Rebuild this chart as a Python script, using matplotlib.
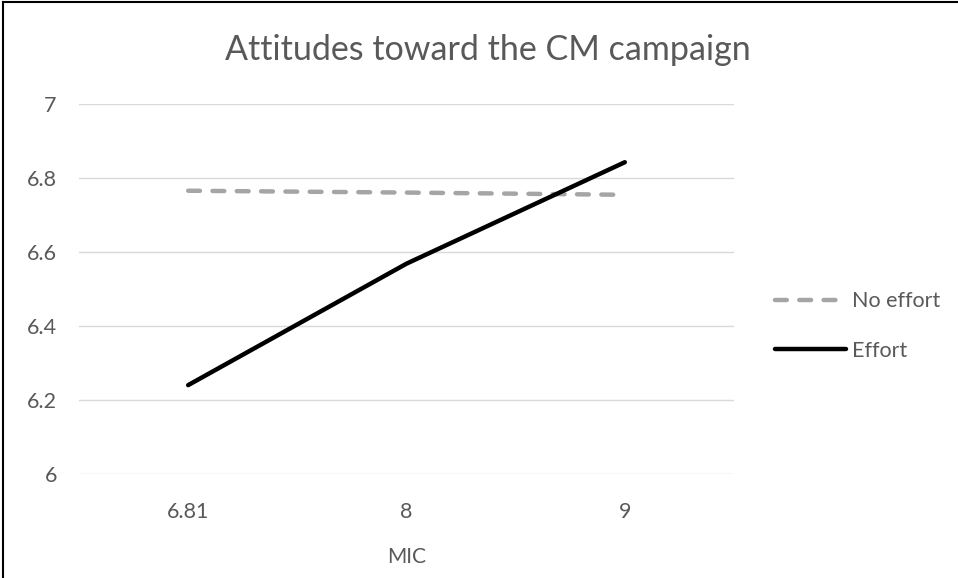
import matplotlib.pyplot as plt

# data
mic_levels = ['6.81', '8', '9']
no_effort = [6.765, 6.760, 6.754]
effort = [6.240, 6.568, 6.842]
y_ticks = [6, 6.2, 6.4, 6.6, 6.8, 7]
y_tick_labels = ['6', '6.2', '6.4', '6.6', '6.8', '7']

plt.rcParams['font.family'] = ['Lato', 'DejaVu Sans']
plt.rcParams['lines.scale_dashes'] = False
txt = '#595959'

fig = plt.figure(figsize=(9.58, 5.78), dpi=100)
ax = fig.add_axes([79 / 958, 1 - 474 / 578, (734 - 79) / 958, (474 - 103.7) / 578])

x = range(len(mic_levels))
ax.plot(x, no_effort, color='#A5A5A5', lw=3.2, dashes=(8.5, 9),
        dash_capstyle='round', solid_capstyle='round', label='No effort')
ax.plot(x, effort, color='black', lw=3.2, solid_capstyle='round', label='Effort')

ax.set_xlim(-0.5, len(mic_levels) - 0.5)
ax.set_ylim(6, 7)
ax.set_xticks(list(x))
ax.set_xticklabels(mic_levels)
ax.set_yticks(y_ticks)
ax.set_yticklabels(y_tick_labels)
ax.tick_params(length=0, labelsize=15.5, colors=txt)
ax.tick_params(axis='x', pad=20)
ax.tick_params(axis='y', pad=16)
ax.grid(axis='y', color='#D9D9D9', lw=1)
ax.set_axisbelow(True)
for s in ax.spines.values():
    s.set_visible(False)

ax.set_xlabel('MIC', fontsize=15, color=txt, labelpad=18)
fig.text(488 / 958, 1 - 50 / 578, 'Attitudes toward the CM campaign',
         ha='center', va='center', fontsize=24.5, color=txt)

ax.legend(loc='center left', bbox_to_anchor=(775 / 958, 1 - 326 / 578),
          bbox_transform=fig.transFigure, frameon=False, fontsize=15.5,
          labelcolor=txt, handlelength=3.3, handletextpad=0.3,
          labelspacing=1.35, borderaxespad=0, borderpad=0)

# chart frame: only top and left edges show in the crop
fig.add_artist(plt.Line2D([3 / 958, 3 / 958], [0, 1 - 2 / 578],
                          transform=fig.transFigure, color='black', lw=1.5))
fig.add_artist(plt.Line2D([3 / 958, 1], [1 - 2 / 578, 1 - 2 / 578],
                          transform=fig.transFigure, color='black', lw=1.5))

fig.savefig('out.png', dpi=100)
